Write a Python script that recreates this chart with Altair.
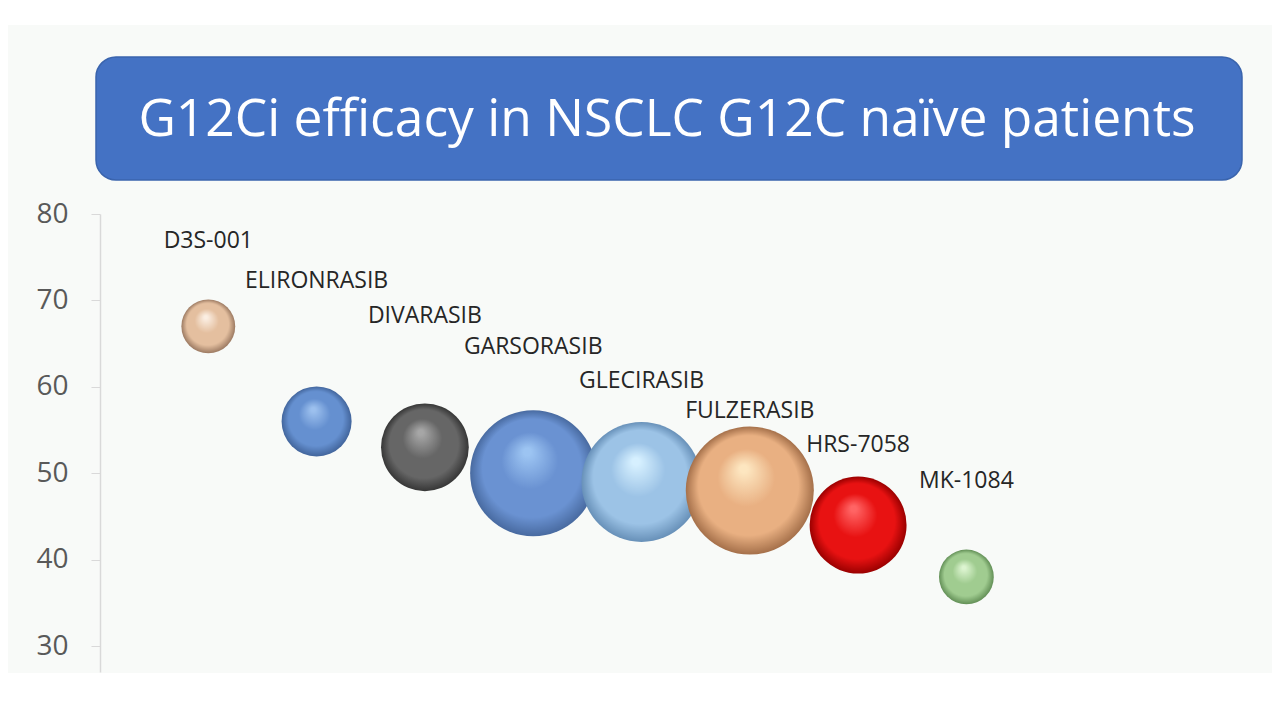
import altair as alt
import pandas as pd

# ---- data ----
drugs = ["D3S-001", "ELIRONRASIB", "DIVARASIB", "GARSORASIB",
         "GLECIRASIB", "FULZERASIB", "HRS-7058", "MK-1084"]
x_values = [1, 2, 3, 4, 5, 6, 7, 8]
orr = [67, 56, 53, 50, 49, 48, 44, 38]
bubble_size = [29, 49, 77, 159, 144, 164, 94, 30]
label_y = [76.9, 72.2, 68.2, 64.6, 60.7, 57.2, 53.3, 49.1]
y_ticks = [30, 40, 50, 60, 70, 80]
title_text = "G12Ci efficacy in NSCLC G12C naïve patients"

# sphere shading: highlight, base, edge
palette = [
    ("#fbeee2", "#e4bf9f", "#9c7a62"),
    ("#9cc0ee", "#6590d0", "#42659c"),
    ("#a6a6a6", "#666666", "#363636"),
    ("#9cc4f2", "#6a92d2", "#486aa0"),
    ("#d6f0ff", "#9cc3e6", "#6790b8"),
    ("#fde6c0", "#e9b082", "#a5704a"),
    ("#ff6464", "#e81212", "#9a0000"),
    ("#dcf4d0", "#a0cc90", "#628f56"),
]

df = pd.DataFrame({"drug": drugs, "x": x_values, "orr": orr,
                   "n": bubble_size, "ly": label_y})

FONT = "Open Sans"
xs = alt.Scale(domain=[0, 10])
ys = alt.Scale(domain=[27, 80], zero=False, nice=False)
ss = alt.Scale(domain=[0, 164], range=[0, 16400], zero=True)

base = alt.Chart(df)

one = pd.DataFrame({"k": [0]})
slide_bg = alt.Chart(one).mark_rect(fill="#f8faf8").encode(
    x=alt.value(-93), x2=alt.value(1180), y=alt.value(-189), y2=alt.value(459))

banner = alt.Chart(one).mark_rect(
    fill="#4472C4", stroke="#3a64ad", strokeWidth=1.5, cornerRadius=20
).encode(x=alt.value(-4), x2=alt.value(1142), y=alt.value(-157), y2=alt.value(-34))

title = alt.Chart(pd.DataFrame({"t": [title_text]})).mark_text(
    font=FONT, fontSize=51.5, color="white", align="center", baseline="middle"
).encode(x=alt.value(567), y=alt.value(-93), text="t:N")

axis_layer = base.mark_point(opacity=0).encode(
    x=alt.X("x:Q", scale=xs, axis=None),
    y=alt.Y("orr:Q", scale=ys, axis=alt.Axis(
        values=y_ticks, title=None, grid=False, zindex=1,
        domainColor="#d9d9d9", domainWidth=1.5, tickColor="#d9d9d9", tickSize=9,
        labelFont=FONT, labelFontSize=28, labelColor="#595959", labelPadding=23)),
)

bubbles = []
for name, (hi, mid, edge) in zip(drugs, palette):
    grad = {
        "gradient": "radial",
        "x1": 0.45, "y1": 0.32, "r1": 0.0,
        "x2": 0.5, "y2": 0.5, "r2": 0.5,
        "stops": [
            {"offset": 0.0, "color": hi},
            {"offset": 0.06, "color": hi},
            {"offset": 0.45, "color": mid},
            {"offset": 0.78, "color": mid},
            {"offset": 1.0, "color": edge},
        ],
    }
    bubbles.append(
        base.transform_filter(alt.datum.drug == name)
        .mark_circle(fill=grad, opacity=1, strokeWidth=0)
        .encode(
            x=alt.X("x:Q", scale=xs, axis=None),
            y=alt.Y("orr:Q", scale=ys),
            size=alt.Size("n:Q", scale=ss, legend=None),
        )
    )

labels = base.mark_text(
    font=FONT, fontSize=23, color="#262626", align="center", baseline="middle"
).encode(
    x=alt.X("x:Q", scale=xs, axis=None),
    y=alt.Y("ly:Q", scale=ys),
    text="drug:N",
)

chart = alt.layer(slide_bg, banner, title, axis_layer, *bubbles, labels).properties(
    width=1083, height=458,
    autosize=alt.AutoSizeParams(type="none"),
    padding={"left": 92, "top": 206, "right": 89, "bottom": 40},
    background="white",
).configure_view(stroke=None)

chart.save("out.html", embed_options={"renderer": "svg", "actions": False})
